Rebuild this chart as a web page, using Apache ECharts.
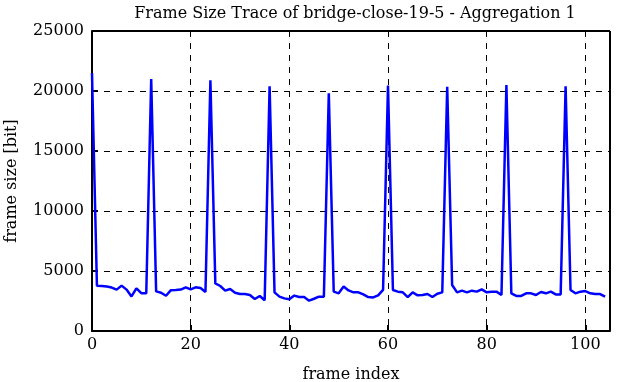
<!DOCTYPE html>
<html>
<head>
<meta charset="utf-8">
<script src="https://cdn.jsdelivr.net/npm/echarts@6/dist/echarts.min.js"></script>
<style>
  html, body { margin: 0; padding: 0; background: #fff; }
  #chart { width: 622px; height: 382px; }
</style>
</head>
<body>
<div id="chart"></div>
<script>
// frame sizes in bit, frame index 0..104
const frameSizes = [
  21500, 3780, 3750, 3700, 3620, 3450, 3780, 3450, 2880, 3560, 3150, 3150,
  21000, 3300, 3190, 2940, 3400, 3420, 3450, 3640, 3470, 3640, 3580, 3250,
  20900, 3970, 3750, 3360, 3500, 3190, 3080, 3080, 3000, 2670, 2920, 2560,
  20400, 3220, 2860, 2720, 2640, 2950, 2830, 2830, 2530, 2690, 2860, 2860,
  19800, 3280, 3140, 3700, 3380, 3220, 3220, 3050, 2830, 2800, 2970, 3420,
  20450, 3420, 3280, 3220, 2830, 3220, 2970, 3000, 3080, 2830, 3110, 3220,
  20350, 3830, 3220, 3360, 3220, 3360, 3280, 3470, 3220, 3280, 3280, 3000,
  20500, 3140, 2920, 2920, 3140, 3140, 3000, 3250, 3140, 3280, 3050, 3050,
  20400, 3420, 3140, 3280, 3330, 3140, 3080, 3080, 2860
]
const xTicks = [0, 20, 40, 60, 80, 100]
const yTicks = [0, 5000, 10000, 15000, 20000, 25000]

const points = frameSizes.map((v, i) => [i, v])

const chart = echarts.init(document.getElementById('chart'))
const serif = '"DejaVu Serif", serif'
const dashed = { show: true, lineStyle: { color: '#000', type: [6, 6], width: 1 } }

chart.setOption({
  animation: false,
  backgroundColor: '#fff',
  title: {
    text: 'Frame Size Trace of bridge-close-19-5 - Aggregation 1',
    left: 350,
    top: 1,
    textAlign: 'center',
    textStyle: { fontFamily: serif, fontWeight: 'normal', fontSize: 16, color: '#000' }
  },
  grid: { left: 92, top: 31, right: 12, bottom: 51, outerBoundsMode: 'none', containLabel: false },
  xAxis: {
    type: 'value',
    min: 0,
    max: 105,
    interval: 20,
    name: 'frame index',
    nameLocation: 'middle',
    nameGap: 36,
    nameTextStyle: { fontFamily: serif, fontSize: 16, color: '#000' },
    axisLine: { show: true, onZero: false, lineStyle: { color: '#000', width: 2 } },
    axisTick: { show: true, inside: true, length: 6, lineStyle: { color: '#000', width: 2 } },
    axisLabel: {
      fontFamily: serif, fontSize: 16, color: '#000', margin: 6,
      showMaxLabel: false,
      formatter: v => xTicks.includes(v) ? String(v) : ''
    },
    splitLine: dashed
  },
  yAxis: {
    type: 'value',
    min: 0,
    max: 25000,
    interval: 5000,
    name: 'frame size [bit]',
    nameLocation: 'middle',
    nameGap: 72,
    nameTextStyle: { fontFamily: serif, fontSize: 16, color: '#000' },
    axisLine: { show: true, lineStyle: { color: '#000', width: 2 } },
    axisTick: { show: true, inside: true, length: 6, lineStyle: { color: '#000', width: 2 } },
    axisLabel: {
      fontFamily: serif, fontSize: 16, color: '#000', margin: 8,
      formatter: v => yTicks.includes(v) ? String(v) : ''
    },
    splitLine: dashed
  },
  series: [
    {
      type: 'line',
      data: points,
      showSymbol: false,
      lineStyle: { color: '#0000ff', width: 2.5 },
      z: 3
    },
    {
      // top and right frame of the box
      type: 'line',
      data: [],
      markLine: {
        silent: true,
        symbol: 'none',
        label: { show: false },
        lineStyle: { color: '#000', type: 'solid', width: 2 },
        data: [{ yAxis: 25000 }, { xAxis: 105 }]
      }
    }
  ]
})
</script>
</body>
</html>
